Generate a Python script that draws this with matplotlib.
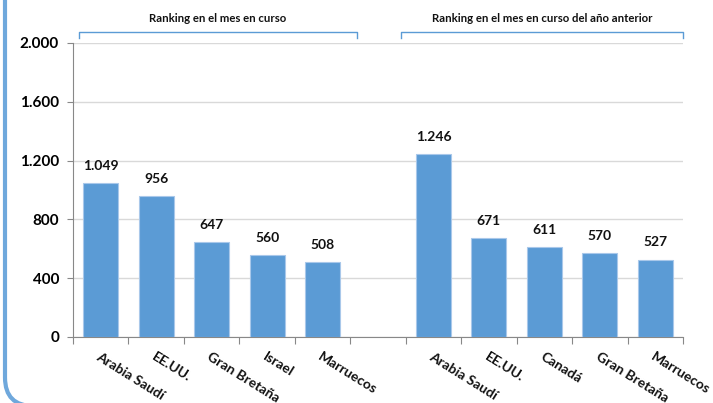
import matplotlib
matplotlib.use("Agg")
import matplotlib.pyplot as plt
from matplotlib.patches import FancyBboxPatch
import matplotlib.transforms as mtransforms

plt.rcParams['font.family'] = ['Lato', 'DejaVu Sans']

group1_labels = ["Arabia Saudí", "EE.UU.", "Gran Bretaña", "Israel", "Marruecos"]
group1_values = [1049, 956, 647, 560, 508]
group2_labels = ["Arabia Saudí", "EE.UU.", "Canadá", "Gran Bretaña", "Marruecos"]
group2_values = [1246, 671, 611, 570, 527]
group_titles = ["Ranking en el mes en curso", "Ranking en el mes en curso del año anterior"]
yticks = [0, 400, 800, 1200, 1600, 2000]

def fmt(v):
    return f"{v:,}".replace(",", ".")

labels = group1_labels + [""] + group2_labels
values = group1_values + [None] + group2_values
n = len(labels)

W, H = 713, 403
fig = plt.figure(figsize=(W / 100, H / 100), dpi=100)
ax = fig.add_axes([73 / W, 1 - 337 / H, (683 - 73) / W, (337 - 43) / H])

bar_color = "#5B9BD5"
for i, v in enumerate(values):
    if v is None:
        continue
    ax.bar(i, v, width=0.63, color=bar_color, edgecolor="#A9C8EA", linewidth=0.8, zorder=3)
    ax.annotate(fmt(v), (i, v), xytext=(0, 8), textcoords="offset points",
                ha="center", va="bottom", fontsize=10, fontweight="bold", color="#111111")

ax.set_xlim(-0.5, n - 0.5)
ax.set_ylim(0, 2000)
ax.set_yticks(yticks)
ax.set_yticklabels([fmt(t) for t in yticks], fontsize=11, fontweight="bold")
ax.yaxis.grid(True, color="#D9D9D9", linewidth=1, zorder=0)
ax.set_axisbelow(True)

ax.set_xticks([i - 0.5 for i in range(n + 1)])
ax.set_xticklabels([])
ax.tick_params(axis="x", length=5, color="#888888", direction="out")
ax.tick_params(axis="y", length=4, color="#888888", direction="out", pad=6)

for s in ["top", "right"]:
    ax.spines[s].set_visible(False)
ax.spines["left"].set_color("#888888")
ax.spines["bottom"].set_color("#888888")

bt = mtransforms.blended_transform_factory(ax.transData, ax.transAxes)
for i, lab in enumerate(labels):
    if not lab:
        continue
    ax.text(i, -0.045, lab, transform=bt,
            rotation=-32, rotation_mode="anchor", ha="left", va="top",
            fontsize=10, fontweight="bold", color="#111111")

# Brackets with titles
for (x0, x1), title in zip([(-0.39, 4.62), (5.42, 10.5)], group_titles):
    yb = 1 + 11 / 294
    yt = 1 + 5 / 294
    ax.plot([x0, x0, x1, x1], [yt, yb, yb, yt], color="#5B9BD5", linewidth=1.0,
            transform=bt, clip_on=False)
    ax.text((x0 + x1) / 2, 1 + 24 / 294, title, transform=bt, ha="center", va="center",
            fontsize=8.2, fontweight="bold", color="#111111")

# Outer rounded frame
frame = FancyBboxPatch((5 / W, -3 / H), 1.2, 1.2, boxstyle="round,pad=0,rounding_size=0.04",
                       transform=fig.transFigure, fill=False, edgecolor="#6FA8DC",
                       linewidth=3, clip_on=False, mutation_aspect=W / H)
fig.patches.append(frame)

fig.savefig("out.png", dpi=100)
